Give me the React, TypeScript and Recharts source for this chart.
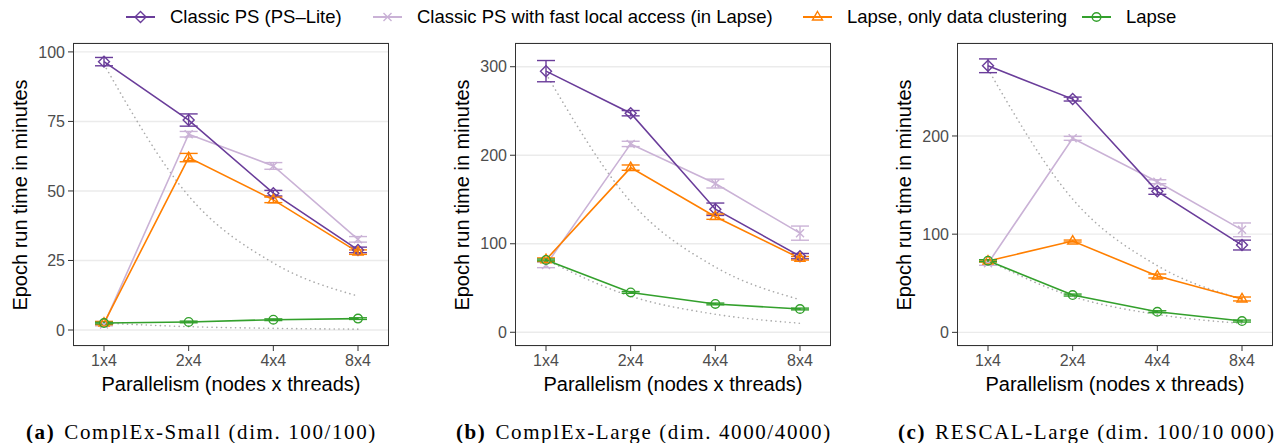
import React from 'react';
import { LineChart, Line, XAxis, YAxis, CartesianGrid, ErrorBar } from 'recharts';

const categories = ['1x4', '2x4', '4x4', '8x4'];

// (a) ComplEx-Small
const smallPs = [96.5, 75.5, 49.2, 28.8];
const smallPsErr = [1.5, 2.2, 1, 1];
const smallFast = [2, 70.4, 59, 32.6];
const smallFastErr = [0.5, 1, 1.2, 1];
const smallClus = [2.5, 62, 46.8, 28];
const smallClusErr = [0.6, 1.5, 1, 0.8];
const smallLapse = [2.5, 2.9, 3.7, 4.1];
const smallLapseErr = [0.3, 0.3, 0.3, 0.3];
const smallIdealPs = [95.5, 48.2, 24.1, 12.2];
const smallIdealLapse = [2.5, 1.2, 0.6, 0.3];

// (b) ComplEx-Large
const largePs = [295, 247.5, 139, 86];
const largePsErr = [12, 3, 7, 3];
const largeFast = [76, 212.8, 168, 112];
const largeFastErr = [3, 3, 5, 8];
const largeClus = [82, 186, 130.6, 83.6];
const largeClusErr = [2, 3, 3, 2];
const largeLapse = [81.7, 45, 32, 26.3];
const largeLapseErr = [1, 1, 1, 1];
const largeIdealPs = [292, 147.5, 73.7, 36.9];
const largeIdealLapse = [81.7, 40.8, 20.4, 10.2];

// (c) RESCAL-Large
const rescalPs = [271.5, 237.6, 143.6, 88.9];
const rescalPsErr = [7, 2, 3, 5];
const rescalFast = [70.3, 197.6, 153.4, 104.4];
const rescalFastErr = [2, 2, 2, 7];
const rescalClus = [72.6, 93, 57.4, 34];
const rescalClusErr = [1, 1, 2, 2];
const rescalLapse = [73, 38, 21, 11.5];
const rescalLapseErr = [1, 1, 1, 1];
const rescalIdealPs = [268, 135.7, 67.9, 33.9];
const rescalIdealLapse = [73, 36.5, 18.2, 9.1];

const smallTicks = [0, 25, 50, 75, 100];
const largeTicks = [0, 100, 200, 300];
const rescalTicks = [0, 100, 200];

const C_PS = '#6A3D9A';
const C_FAST = '#CAB2D6';
const C_CLUS = '#FF7F00';
const C_LAPSE = '#33A02C';

const SANS = '"Liberation Sans", Arial, sans-serif';
const SERIF = '"Liberation Serif", "Times New Roman", serif';

const PLOT_TOP = 43;
const PLOT_W = 316;
const PLOT_H = 303;
const X_AXIS_H = 30;

function buildRows(
  ps: number[], psErr: number[], fast: number[], fastErr: number[],
  clus: number[], clusErr: number[], lapse: number[], lapseErr: number[],
  idealPs: number[], idealLapse: number[]
) {
  return categories.map((cat, i) => ({
    cat,
    ps: ps[i], psErr: psErr[i],
    fast: fast[i], fastErr: fastErr[i],
    clus: clus[i], clusErr: clusErr[i],
    lapse: lapse[i], lapseErr: lapseErr[i],
    idealPs: idealPs[i], idealLapse: idealLapse[i],
  }));
}

type Shape = 'diamond' | 'cross' | 'triangle' | 'circle';

function Marker({ cx, cy, shape, color }: { cx: number; cy: number; shape: Shape; color: string }) {
  const sw = 1.4;
  if (shape === 'diamond') {
    const r = 5.5;
    return <path d={`M${cx},${cy - r}L${cx + r},${cy}L${cx},${cy + r}L${cx - r},${cy}Z`} fill="none" stroke={color} strokeWidth={sw} />;
  }
  if (shape === 'cross') {
    const r = 4;
    return <path d={`M${cx - r},${cy - r}L${cx + r},${cy + r}M${cx - r},${cy + r}L${cx + r},${cy - r}`} fill="none" stroke={color} strokeWidth={sw} />;
  }
  if (shape === 'triangle') {
    return <path d={`M${cx},${cy - 5.5}L${cx + 5},${cy + 3}L${cx - 5},${cy + 3}Z`} fill="none" stroke={color} strokeWidth={sw} />;
  }
  return <circle cx={cx} cy={cy} r={4.3} fill="none" stroke={color} strokeWidth={sw} />;
}

const dotOf = (shape: Shape, color: string) => (p: any) => (
  <Marker key={`${shape}-${p.index}`} cx={p.cx} cy={p.cy} shape={shape} color={color} />
);

const series: { key: string; name: string; color: string; shape: Shape }[] = [
  { key: 'fast', name: 'Classic PS with fast local access (in Lapse)', color: C_FAST, shape: 'cross' },
  { key: 'ps', name: 'Classic PS (PS\u2013Lite)', color: C_PS, shape: 'diamond' },
  { key: 'clus', name: 'Lapse, only data clustering', color: C_CLUS, shape: 'triangle' },
  { key: 'lapse', name: 'Lapse', color: C_LAPSE, shape: 'circle' },
];

interface PanelProps {
  left: number;
  yWidth: number;
  rows: any[];
  domain: [number, number];
  ticks: number[];
  tag: string;
  caption: string;
  captionLeft: number;
  titleX: number;
}

function Panel({ left, yWidth, rows, domain, ticks, tag, caption, captionLeft, titleX }: PanelProps) {
  const plotLeft = left + yWidth;
  return (
    <>
      <div style={{ position: 'absolute', left, top: 0 }}>
        <LineChart
          width={yWidth + PLOT_W + 4}
          height={PLOT_TOP + PLOT_H + X_AXIS_H}
          data={rows}
          margin={{ top: PLOT_TOP, right: 4, left: 0, bottom: 0 }}
        >
          <CartesianGrid vertical={false} stroke="#EBEBEB" strokeWidth={1.4} />
          <XAxis
            dataKey="cat"
            padding={{ left: 31, right: 31 }}
            axisLine={false}
            tickLine={{ stroke: '#333333' }}
            tickSize={5}
            tickMargin={4}
            interval={0}
            height={X_AXIS_H}
            tick={{ fill: '#4D4D4D', fontSize: 16, fontFamily: SANS }}
          />
          <YAxis
            type="number"
            width={yWidth}
            domain={domain}
            ticks={ticks}
            allowDataOverflow
            axisLine={false}
            tickLine={{ stroke: '#333333' }}
            tickSize={5}
            tickMargin={3}
            tick={{ fill: '#4D4D4D', fontSize: 16, fontFamily: SANS }}
          />
          <Line
            dataKey="idealPs"
            type="monotone"
            stroke="#AAAAAA"
            strokeWidth={1.6}
            strokeDasharray="0.1 4.6"
            strokeLinecap="round"
            dot={false}
            activeDot={false}
            isAnimationActive={false}
          />
          <Line
            dataKey="idealLapse"
            type="monotone"
            stroke="#AAAAAA"
            strokeWidth={1.6}
            strokeDasharray="0.1 4.6"
            strokeLinecap="round"
            dot={false}
            activeDot={false}
            isAnimationActive={false}
          />
          {series.map((s) => (
            <Line
              key={s.key}
              dataKey={s.key}
              type="linear"
              stroke={s.color}
              strokeWidth={1.6}
              dot={dotOf(s.shape, s.color)}
              activeDot={false}
              isAnimationActive={false}
            >
              <ErrorBar dataKey={`${s.key}Err`} width={9} stroke={s.color} strokeWidth={1.4} isAnimationActive={false} />
            </Line>
          ))}
        </LineChart>
      </div>
      <div
        style={{
          position: 'absolute', left: plotLeft, top: PLOT_TOP, width: PLOT_W, height: PLOT_H,
          border: '1.4px solid #333333', boxSizing: 'border-box', pointerEvents: 'none',
        }}
      />
      <div
        style={{
          position: 'absolute', left: titleX, top: PLOT_TOP + PLOT_H / 2,
          transform: 'translate(-50%, -50%) rotate(-90deg)', whiteSpace: 'nowrap',
          fontFamily: SANS, fontSize: 20, color: '#000',
        }}
      >
        Epoch run time in minutes
      </div>
      <div
        style={{
          position: 'absolute', left: plotLeft + PLOT_W / 2, top: 384,
          transform: 'translate(-50%, -50%)', whiteSpace: 'nowrap',
          fontFamily: SANS, fontSize: 20, color: '#000',
        }}
      >
        Parallelism (nodes x threads)
      </div>
      <div
        style={{
          position: 'absolute', left: captionLeft, top: 432,
          transform: 'translateY(-50%)', whiteSpace: 'nowrap',
          fontFamily: SERIF, fontSize: 21, letterSpacing: 1.6, color: '#000',
        }}
      >
        <b>{tag}</b>
        <span style={{ marginLeft: 9 }}>{caption}</span>
      </div>
    </>
  );
}

const legendX = [126, 373, 803, 1082];
const legendOrder = ['ps', 'fast', 'clus', 'lapse'];

function Legend() {
  return (
    <>
      {legendOrder.map((k, i) => {
        const s = series.find((x) => x.key === k)!;
        return (
          <div
            key={k}
            style={{
              position: 'absolute', left: legendX[i], top: 17, transform: 'translateY(-50%)',
              display: 'flex', alignItems: 'center', whiteSpace: 'nowrap',
            }}
          >
            <svg width={29} height={14} style={{ display: 'block' }}>
              <line x1={0} y1={7} x2={29} y2={7} stroke={s.color} strokeWidth={2} />
              <Marker cx={14.5} cy={7} shape={s.shape} color={s.color} />
            </svg>
            <span style={{ marginLeft: 15, fontFamily: SANS, fontSize: 18.5, color: '#000' }}>{s.name}</span>
          </div>
        );
      })}
    </>
  );
}

export default function App() {
  const smallRows = buildRows(smallPs, smallPsErr, smallFast, smallFastErr, smallClus, smallClusErr, smallLapse, smallLapseErr, smallIdealPs, smallIdealLapse);
  const largeRows = buildRows(largePs, largePsErr, largeFast, largeFastErr, largeClus, largeClusErr, largeLapse, largeLapseErr, largeIdealPs, largeIdealLapse);
  const rescalRows = buildRows(rescalPs, rescalPsErr, rescalFast, rescalFastErr, rescalClus, rescalClusErr, rescalLapse, rescalLapseErr, rescalIdealPs, rescalIdealLapse);

  return (
    <div style={{ position: 'absolute', left: 0, top: 0, width: 1281, height: 443, background: '#fff', overflow: 'hidden' }}>
      <Legend />
      <Panel left={0} yWidth={73} rows={smallRows} domain={[-5.75, 103.2]} ticks={smallTicks}
        tag="(a)" caption="ComplEx-Small (dim. 100/100)" captionLeft={26} titleX={20} />
      <Panel left={430} yWidth={85} rows={largeRows} domain={[-15.5, 326.8]} ticks={largeTicks}
        tag="(b)" caption="ComplEx-Large (dim. 4000/4000)" captionLeft={456} titleX={462} />
      <Panel left={860} yWidth={97} rows={rescalRows} domain={[-13.9, 294.7]} ticks={rescalTicks}
        tag="(c)" caption={'RESCAL-Large (dim. 100/10\u2009000)'} captionLeft={898} titleX={904} />
    </div>
  );
}
